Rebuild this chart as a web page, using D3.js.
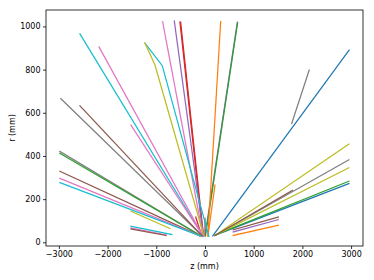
<!DOCTYPE html>
<html>
<head>
<meta charset="utf-8" />
<title>Tracks in r-z</title>
<style>
body { margin: 0; background: #fff; }
text { font-family: "DejaVu Sans", sans-serif; }
.axis path { display: none; }
.axis line { stroke: #000; stroke-width: 0.8px; }
.axis text { font-size: 8px; fill: #000; }
</style>
</head>
<body>
<script src="https://d3js.org/d3.v7.min.js"></script>
<script>
var width = 374,
    height = 280;

// tab10 colour index for each track
var trackColor = [0, 0, 2, 1, 4, 5, 8, 7, 8, 5, 7, 4, 2, 1, 1, 3, 5, 3, 3, 4,
                  6, 9, 8, 9, 6, 6, 7, 5, 7, 2, 5, 6, 9, 8, 9, 6, 5];

// hit z (mm) per track
var trackZ = [
  [160, 2960], [200, 2955], [200, 2955], [580, 1505], [580, 1505], [580, 1505],
  [205, 2955], [205, 2955], [205, 2955], [205, 1795], [1781, 2140],
  [0, 664], [10, 670], [60, 322], [60, 205], [-80, -190], [0, 0],
  [-40, -514], [-30, -500], [-30, -630], [-40, -870],
  [80, -877, -1233], [-20, -1027, -1233],
  [-40, -2568], [-40, -2176], [-40, -1520], [-60, -2960], [-60, -2568],
  [-80, -2980], [-80, -2980], [-100, -2980], [-100, -2980], [-100, -2980],
  [-720, -1520], [-680, -1520], [-800, -1520], [-800, -1520]
];

// hit r (mm) per track
var trackR = [
  [30, 890], [32, 272], [33, 283], [32, 79], [48, 105], [58, 117],
  [32, 455], [32, 382], [32, 345], [32, 241], [551, 798],
  [30, 1019], [30, 1017], [30, 1022], [28, 265], [40, 117], [33, 111],
  [30, 1020], [30, 1020], [30, 1025], [30, 1022],
  [28, 818, 923], [28, 821, 923],
  [28, 965], [28, 905], [28, 543], [30, 665], [30, 632],
  [30, 421], [30, 412], [30, 329], [30, 296], [30, 277],
  [64, 144], [36, 74], [34, 66], [32, 62]
];

var xTicks = [-3000, -2000, -1000, 0, 1000, 2000, 3000];
var yTicks = [0, 200, 400, 600, 800, 1000];

var margin = {left: 46, right: 11, top: 10, bottom: 34};
var x0 = margin.left, x1 = width - margin.right,
    y0 = margin.top, y1 = height - margin.bottom;

var x = d3.scaleLinear().domain([-3265, 3245]).range([x0, x1]);
var y = d3.scaleLinear().domain([-17, 1076]).range([y1, y0]);

var svg = d3.select("body").append("svg")
    .attr("width", width)
    .attr("height", height);

var line = d3.line()
    .x(function(d){ return x(d[0]); })
    .y(function(d){ return y(d[1]); });

var tracks = trackZ.map(function(zs, i){
  return zs.map(function(z, j){ return [z, trackR[i][j]]; });
});

svg.append("defs").append("clipPath").attr("id", "plot")
  .append("rect")
    .attr("x", x0).attr("y", y0)
    .attr("width", x1 - x0).attr("height", y1 - y0);

svg.append("g")
    .attr("clip-path", "url(#plot)")
  .selectAll("path")
  .data(tracks)
  .enter().append("path")
    .attr("d", line)
    .style("fill", "none")
    .style("stroke", function(d, i){ return d3.schemeCategory10[trackColor[i]]; })
    .style("stroke-width", "1.25px")
    .style("stroke-linecap", "square");

svg.append("g")
    .attr("class", "axis")
    .attr("transform", "translate(0," + y1 + ")")
    .call(d3.axisBottom(x).tickValues(xTicks).tickSize(3).tickPadding(2).tickFormat(d3.format("d")));

svg.append("g")
    .attr("class", "axis")
    .attr("transform", "translate(" + x0 + ",0)")
    .call(d3.axisLeft(y).tickValues(yTicks).tickSize(3).tickPadding(2.5).tickFormat(d3.format("d")));

// frame
svg.append("rect")
    .attr("x", x0).attr("y", y0)
    .attr("width", x1 - x0).attr("height", y1 - y0)
    .style("fill", "none")
    .style("stroke", "#000")
    .style("stroke-width", "0.8px");

svg.append("text")
    .attr("x", (x0 + x1) / 2)
    .attr("y", 269)
    .attr("text-anchor", "middle")
    .style("font-size", "8px")
    .text("z (mm)");

svg.append("text")
    .attr("transform", "translate(15," + ((y0 + y1) / 2) + ") rotate(-90)")
    .attr("text-anchor", "middle")
    .style("font-size", "8px")
    .text("r (mm)");
</script>
</body>
</html>
